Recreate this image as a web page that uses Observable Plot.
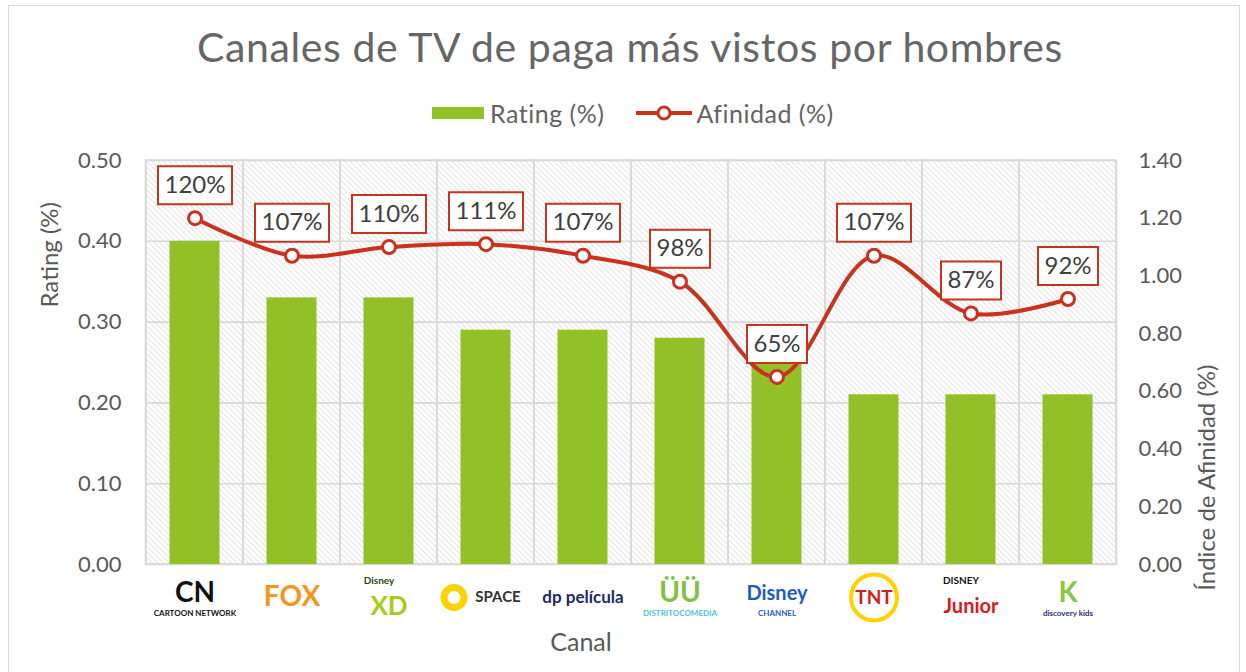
<!DOCTYPE html>
<html><head><meta charset="utf-8">
<script src="https://cdn.jsdelivr.net/npm/d3@7"></script>
<script src="https://cdn.jsdelivr.net/npm/@observablehq/plot@0.6"></script>
<style>
body{margin:0;background:#fff;font-family:Lato,"Open Sans",sans-serif;color:#595959}
#wrap{position:relative;width:1246px;height:672px;overflow:hidden;background:#fff}
#border{position:absolute;left:8px;top:5px;width:1232px;height:720px;border:1.5px solid #d9d9d9;box-sizing:border-box}
#title{position:absolute;left:8px;top:22px;width:1244px;text-align:center;font-size:41px;line-height:50px;color:#666;letter-spacing:0.6px}
#legend{position:absolute;left:432px;top:98px;height:30px;display:flex;align-items:center;font-size:25px;color:#636363;letter-spacing:0.5px}
#legend .bar{display:inline-block;width:52px;height:12px;background:#92C127;margin-right:6px}
#legend svg{margin-left:32px;margin-right:4px}
#chart{position:absolute;left:0;top:140px}
</style></head>
<body><div id="wrap"><div id="border"></div>
<div id="title">Canales de TV de paga más vistos por hombres</div>
<div id="legend"><span class="bar"></span><span>Rating (%)</span>
<svg width="56" height="16"><line x1="0" y1="8" x2="56" y2="8" stroke="#C8321E" stroke-width="4"/><circle cx="28" cy="8" r="6" fill="#fff" stroke="#C8321E" stroke-width="3"/></svg><span>Afinidad (%)</span></div>
<div id="chart"></div></div>
<script>
const canales = ["Cartoon Network","FOX","Disney XD","Space","De Película","Distrito Comedia","Disney Channel","TNT","Disney Junior","Discovery Kids"];
const rating = [0.40,0.33,0.33,0.29,0.29,0.28,0.25,0.21,0.21,0.21];
const afinidad = [1.20,1.07,1.10,1.11,1.07,0.98,0.65,1.07,0.87,0.92];
const ratingTicks = [0,0.1,0.2,0.3,0.4,0.5];
const afinidadTicks = [0,0.2,0.4,0.6,0.8,1.0,1.2,1.4];
const logoTexto = ["CN","FOX","XD","SPACE","dp película","ÜÜ","Disney","TNT","Junior","K"];
const logoColor = ["#111","#F7941D","#A4CC1B","#333","#1B2A6B","#7DC242","#1E5BC6","#D71920","#D71920","#8DC63F"];
const logoSub = ["CARTOON NETWORK","","Disney","","","DISTRITOCOMEDIA","CHANNEL","","DISNEY","discovery kids"];
const logoSubColor = ["#111","#111","#2a4a10","#333","#1B2A6B","#4FC3D9","#1E5BC6","#111","#111","#2B2E83"];

const S = 0.5 / 1.4; // afinidad -> escala del rating (eje secundario)
const data = canales.map((c, i) => ({
  canal: c, rating: rating[i], afinidad: afinidad[i],
  etiqueta: Math.round(afinidad[i] * 100) + "%",
  logo: logoTexto[i], color: logoColor[i], sub: logoSub[i], subColor: logoSubColor[i]
}));
const red = "#C8321E";
const box = w => ({draw(ctx){ ctx.rect(-w/2, -52, w, 38); }});
const yA = d => d.afinidad * S;
const subArriba = d => d.canal === "Disney XD" || d.canal === "Disney Junior";
const esSpace = d => d.canal === "Space";

const chart = Plot.plot({
  width: 1246, height: 532,
  marginTop: 20, marginBottom: 108, marginLeft: 145, marginRight: 130,
  x: {domain: canales, padding: 0, axis: null},
  y: {domain: [0, 0.5]},
  style: {fontFamily: "Lato, sans-serif", fontSize: "22px", color: "#595959", background: "transparent"},
  marks: [
    Plot.frame({fill: "url(#hatch)"}),
    Plot.gridY(ratingTicks.slice(1, -1), {stroke: "#d9d9d9", strokeOpacity: 1, strokeWidth: 1.6}),
    Plot.barY(data, {x: "canal", y1: () => 0, y2: () => 0.5, fill: "none", stroke: "#d9d9d9", strokeWidth: 1.6}),
    Plot.frame({stroke: "#d9d9d9", strokeWidth: 1.6}),
    Plot.barY(data, {x: "canal", y: "rating", fill: "#92C127", insetLeft: 23.5, insetRight: 23.5}),
    Plot.line(data, {x: "canal", y: yA, stroke: red, strokeWidth: 4, curve: "catmull-rom"}),
    Plot.dot(data, {x: "canal", y: yA, r: 6.5, fill: "white", stroke: red, strokeWidth: 3}),
    Plot.dot(data.filter(d => d.etiqueta.length > 3), {x: "canal", y: yA, symbol: box(74), r: 5, fill: "white", stroke: red, strokeWidth: 2}),
    Plot.dot(data.filter(d => d.etiqueta.length <= 3), {x: "canal", y: yA, symbol: box(60), r: 5, fill: "white", stroke: red, strokeWidth: 2}),
    Plot.text(data, {x: "canal", y: yA, text: "etiqueta", dy: -33, fontSize: 24, fill: "#404040"}),
    Plot.axisY(ratingTicks, {anchor: "left", tickSize: 0, tickPadding: 24, tickFormat: d => d.toFixed(2), label: null, fontSize: 22}),
    Plot.axisY(afinidadTicks.map(v => v * S), {anchor: "right", tickSize: 0, tickPadding: 22, tickFormat: d => (d / S).toFixed(2), label: null, fontSize: 22}),
    Plot.text(["Rating (%)"], {frameAnchor: "left", rotate: -90, dx: -95, dy: -55, fontSize: 24, fill: "#595959"}),
    Plot.text(["Índice de Afinidad (%)"], {frameAnchor: "right", rotate: -90, dx: 91, dy: 2, fontSize: 24, fill: "#595959"}),
    Plot.text(["Canal"], {frameAnchor: "bottom", lineAnchor: "middle", dx: -50, dy: 78, fontSize: 25, fill: "#595959"}),
    // logos de canales (texto estilizado)
    Plot.dot(data.filter(d => d.canal === "TNT"), {x: "canal", frameAnchor: "bottom", dy: 33, r: 23, fill: "white", stroke: "#FFD200", strokeWidth: 4}),
    Plot.dot(data.filter(esSpace), {x: "canal", frameAnchor: "bottom", dx: -32, dy: 33, r: 10, fill: "white", stroke: "#FFD200", strokeWidth: 7}),
    Plot.text(data.filter(esSpace), {x: "canal", frameAnchor: "bottom", lineAnchor: "middle", text: "logo", fill: "color", fontWeight: "bold", fontSize: 15, dx: 12, dy: 33}),
    Plot.text(data.filter(d => !subArriba(d) && !esSpace(d) && d.sub), {x: "canal", frameAnchor: "bottom", lineAnchor: "middle", text: "logo", fill: "color", fontWeight: "bold",
      fontSize: d => d.logo.length <= 3 ? 28 : 20, dy: 29}),
    Plot.text(data.filter(d => !subArriba(d) && !esSpace(d) && !d.sub), {x: "canal", frameAnchor: "bottom", lineAnchor: "middle", text: "logo", fill: "color", fontWeight: "bold",
      fontSize: d => d.logo === "TNT" ? 19 : d.logo.length <= 3 ? 28 : 17, dy: 33}),
    Plot.text(data.filter(subArriba), {x: "canal", frameAnchor: "bottom", lineAnchor: "middle", text: "logo", fill: "color", fontWeight: "bold",
      fontSize: d => d.logo.length <= 3 ? 26 : 20, dy: 42}),
    Plot.text(data.filter(d => d.sub && !subArriba(d)), {x: "canal", frameAnchor: "bottom", lineAnchor: "middle", text: "sub", fill: "subColor", fontWeight: "bold", fontSize: 8, dy: 49}),
    Plot.text(data.filter(d => d.sub && subArriba(d)), {x: "canal", frameAnchor: "bottom", lineAnchor: "middle", text: "sub", fill: "subColor", fontWeight: "bold", fontSize: 10, dy: 16, dx: -10})
  ]
});

// patrón de rayado del área de trazado
const ns = "http://www.w3.org/2000/svg";
const defs = document.createElementNS(ns, "defs");
defs.innerHTML = '<pattern id="hatch" width="4" height="4" patternUnits="userSpaceOnUse" patternTransform="rotate(-45)"><rect width="4" height="4" fill="#fff"/><line x1="0" y1="0" x2="0" y2="4" stroke="#d4d4d4" stroke-width="1.3"/></pattern>';
chart.insertBefore(defs, chart.firstChild);
document.getElementById("chart").appendChild(chart);
</script></body></html>
